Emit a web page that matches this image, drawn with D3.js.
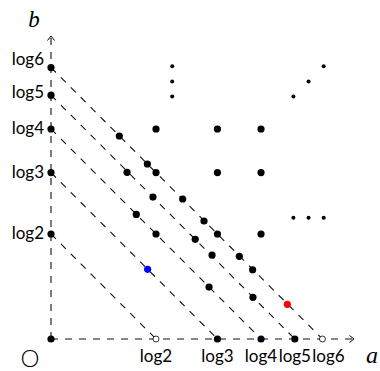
<!DOCTYPE html>
<html>
<head>
<meta charset="utf-8">
<script src="https://cdn.jsdelivr.net/npm/d3@7"></script>
<style>
  body { margin: 0; background: #fff; }
  svg { display: block; }
  .tick-label { font-family: Lato, "Open Sans", sans-serif; font-size: 17px; fill: #000; }
  .var-label { font-family: "Liberation Serif", serif; font-style: italic; fill: #000; }
</style>
</head>
<body>
<div id="chart"></div>
<script>
// values are natural logs, the chart plots (log a, log b)
const tickNums = [2, 3, 4, 5, 6];
const tickLabels = ["log2", "log3", "log4", "log5", "log6"];
const gridNums = [2, 3, 4];
const hollowAxisNums = [2, 6];
const filledAxisNums = [3, 4, 5];

// dots sitting on the dashed lines (log a, log b)
const lineDotsA = [0.451, 0.636, 0.502, 0.673, 0.869, 0.563, 1.010, 0.952, 1.063, 1.243, 1.331, 1.043, 1.333];
const lineDotsB = [1.340, 1.155, 1.100, 0.937, 0.924, 0.822, 0.779, 0.658, 0.554, 0.546, 0.457, 0.343, 0.275];

const bluePoint = [0.638, 0.460];
const redPoint = [1.560, 0.229];

// ellipsis dots
const dotsA = [0.80, 0.80, 0.80, 1.60, 1.70, 1.80, 1.60, 1.70, 1.80];
const dotsB = [1.60, 1.70, 1.80, 1.60, 1.70, 1.80, 0.80, 0.80, 0.80];

const width = 380, height = 371;
const svg = d3.select("#chart").append("svg")
  .attr("width", width)
  .attr("height", height);

const x = d3.scaleLinear().domain([0, 2]).range([51, 354]);
const y = d3.scaleLinear().domain([0, 2]).range([339, 36]);

const dash = "7,7";

// axes (dashed with open arrow heads)
svg.append("line")
  .attr("x1", x(0)).attr("y1", y(0))
  .attr("x2", x(2) - 1).attr("y2", y(0))
  .attr("stroke", "#111").attr("stroke-width", 1.1)
  .attr("stroke-dasharray", dash);
svg.append("line")
  .attr("x1", x(0)).attr("y1", y(0))
  .attr("x2", x(0)).attr("y2", y(2) + 1)
  .attr("stroke", "#111").attr("stroke-width", 1.1)
  .attr("stroke-dasharray", dash);

svg.append("path")
  .attr("d", `M${x(2) - 4.5},${y(0) - 3.5}L${x(2)},${y(0)}L${x(2) - 4.5},${y(0) + 3.5}`)
  .attr("fill", "none").attr("stroke", "#000").attr("stroke-width", 1);
svg.append("path")
  .attr("d", `M${x(0) - 3.5},${y(2) + 4.5}L${x(0)},${y(2)}L${x(0) + 3.5},${y(2) + 4.5}`)
  .attr("fill", "none").attr("stroke", "#000").attr("stroke-width", 1);

// lines a + b = log n
svg.selectAll(".diag")
  .data(tickNums)
  .enter()
  .append("line")
  .attr("class", "diag")
  .attr("x1", d => x(0))
  .attr("y1", d => y(Math.log(d)))
  .attr("x2", d => x(Math.log(d)))
  .attr("y2", d => y(0))
  .attr("stroke", "#111")
  .attr("stroke-width", 1.1)
  .attr("stroke-dasharray", dash);

const R = 3.6;

// grid of (log i, log j)
const grid = [];
gridNums.forEach(i => gridNums.forEach(j => grid.push([Math.log(i), Math.log(j)])));
svg.selectAll(".grid")
  .data(grid)
  .enter()
  .append("circle")
  .attr("cx", d => x(d[0]))
  .attr("cy", d => y(d[1]))
  .attr("r", R);

// points on the lines
svg.selectAll(".onLine")
  .data(lineDotsA.map((a, i) => [a, lineDotsB[i]]))
  .enter()
  .append("circle")
  .attr("cx", d => x(d[0]))
  .attr("cy", d => y(d[1]))
  .attr("r", R);

// axis points
svg.selectAll(".yAxisDot")
  .data([1].concat(tickNums))
  .enter()
  .append("circle")
  .attr("cx", x(0))
  .attr("cy", d => y(Math.log(d)))
  .attr("r", R);
svg.selectAll(".xAxisDot")
  .data(filledAxisNums)
  .enter()
  .append("circle")
  .attr("cx", d => x(Math.log(d)))
  .attr("cy", y(0))
  .attr("r", R);
svg.selectAll(".xHollow")
  .data(hollowAxisNums)
  .enter()
  .append("circle")
  .attr("cx", d => x(Math.log(d)))
  .attr("cy", y(0))
  .attr("r", 3)
  .attr("fill", "#fff")
  .attr("stroke", "#000")
  .attr("stroke-width", 0.8);

// ellipsis
svg.selectAll(".ell")
  .data(dotsA.map((a, i) => [a, dotsB[i]]))
  .enter()
  .append("circle")
  .attr("cx", d => x(d[0]))
  .attr("cy", d => y(d[1]))
  .attr("r", 2);

svg.append("circle")
  .attr("cx", x(bluePoint[0])).attr("cy", y(bluePoint[1]))
  .attr("r", R).attr("fill", "#0000ff");
svg.append("circle")
  .attr("cx", x(redPoint[0])).attr("cy", y(redPoint[1]))
  .attr("r", R).attr("fill", "#ff0000");

// tick labels
const yNudge = { 5: -2, 6: -8 };
svg.selectAll(".yLabel")
  .data(tickNums)
  .enter()
  .append("text")
  .attr("class", "tick-label")
  .attr("x", 44)
  .attr("y", d => y(Math.log(d)) + 5 + (yNudge[d] || 0))
  .attr("text-anchor", "end")
  .text((d, i) => tickLabels[i]);

const xNudge = { 6: 6 };
svg.selectAll(".xLabel")
  .data(tickNums)
  .enter()
  .append("text")
  .attr("class", "tick-label")
  .attr("x", d => x(Math.log(d)) + (xNudge[d] || 0))
  .attr("y", 362)
  .attr("text-anchor", "middle")
  .text((d, i) => tickLabels[i]);

svg.append("text")
  .attr("x", 30).attr("y", 367)
  .attr("text-anchor", "middle")
  .style("font-family", "Lato, sans-serif")
  .style("font-size", "24px")
  .style("font-weight", 300)
  .text("O");

svg.append("text")
  .attr("class", "var-label")
  .attr("x", 372).attr("y", 363)
  .attr("text-anchor", "middle")
  .style("font-size", "24px")
  .text("a");

svg.append("text")
  .attr("class", "var-label")
  .attr("x", 34).attr("y", 27)
  .attr("text-anchor", "middle")
  .style("font-size", "23px")
  .text("b");
</script>
</body>
</html>
